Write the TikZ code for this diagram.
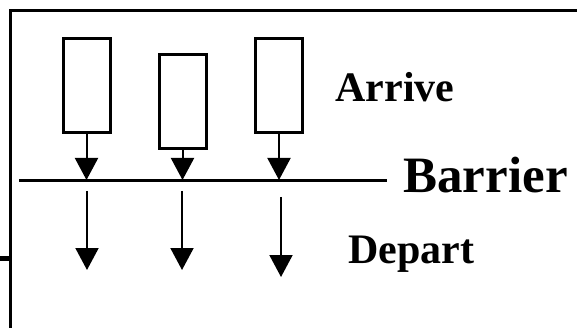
\documentclass[tikz,border=0pt]{standalone}
\usepackage{fontspec}
\setmainfont{Liberation Serif}
\usetikzlibrary{arrows.meta}

\tikzset{
  procbox/.style={draw, line width=3pt, rectangle, inner sep=0pt,
    minimum width=47pt, minimum height=94pt},
  flow/.style={line width=2pt, -{Triangle[length=22pt, width=23pt]}},
  label/.style={anchor=base, font=\bfseries}
}

\begin{document}
\begin{tikzpicture}[x=1pt, y=-1pt]
			\useasboundingbox (0,0) rectangle (577,328);
			% frame
			\draw[line width=3pt] (10.5,328) -- (10.5,10.5) -- (577,10.5);
			\draw[line width=5pt] (0,258) -- (10.5,258);
			% arriving threads
			\node[procbox] (t1) at (86.5, 85.5) {};
			\node[procbox] (t2) at (182.5,101.5) {};
			\node[procbox] (t3) at (279, 85.5) {};
			% barrier
			\coordinate (barL) at (19,181);
			\coordinate (barR) at (387,181);
			\draw[line width=3pt] (barL) -- (barR);
			\foreach \t in {t1,t2,t3}
				\draw[flow] (\t.south) -- (\t.south |- 0,180);
			% departing threads
			\coordinate (d1s) at (87,191);  \coordinate (d1e) at (87,270);
			\coordinate (d2s) at (182,191); \coordinate (d2e) at (182,270);
			\coordinate (d3s) at (281,197); \coordinate (d3e) at (281,277);
			\draw[flow] (d1s) -- (d1e);
			\draw[flow] (d2s) -- (d2e);
			\draw[flow] (d3s) -- (d3e);
			% labels
			\node[label, font=\fontsize{42}{42}\selectfont\bfseries] (arrive) at (395,102) {Arrive};
			\node[label, font=\fontsize{51}{51}\selectfont\bfseries] (barrier) at (485.5,193) {Barrier};
			\node[label, font=\fontsize{42}{42}\selectfont\bfseries] (depart) at (411.5,263) {Depart};
		\end{tikzpicture}
\end{document}
